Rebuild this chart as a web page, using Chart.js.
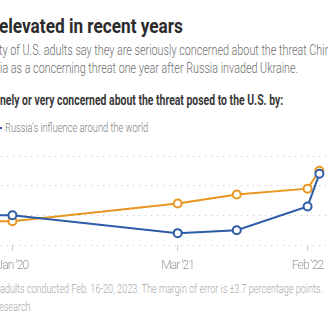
<!DOCTYPE html>
<html>
<head>
<meta charset="utf-8">
<script src="https://cdn.jsdelivr.net/npm/chart.js@4.4.1/dist/chart.umd.min.js"></script>
<style>
  html, body { margin: 0; padding: 0; background: #fff; }
  body {
    width: 328px; height: 328px; overflow: hidden; position: relative;
    font-family: Roboto, sans-serif;
  }
  /* Roboto squeezed sideways to get a condensed face */
  .line { position: absolute; white-space: nowrap; left: 0; transform-origin: 0 0; }
  #title { top: 14px; left: -1px; font-size: 20px; font-weight: bold; color: #2b2b2b; transform: scaleX(0.86); }
  .sub { font-size: 14px; font-weight: 300; color: #6e6e6e; transform: scaleX(0.77); }
  #sub1 { top: 42px; left: -1px; }
  #sub2 { top: 60px; }
  #subhead { top: 92px; font-size: 14.5px; font-weight: bold; color: #3a3a3a; transform: scaleX(0.72); }
  #legend { top: 120px; left: 5px; font-size: 13px; font-weight: 300; color: #808080; transform: scaleX(0.715); }
  #legendMark { position: absolute; top: 127px; left: -6px; width: 8px; height: 2px; background: #2d5ca6; }
  .foot { font-size: 13px; font-weight: 300; color: #a8a8a8; transform: scaleX(0.70); }
  #foot1 { top: 281px; }
  #foot2 { top: 299px; left: -1px; }
  #chartBox { position: absolute; left: -29px; top: 150px; width: 378px; height: 125px; }
</style>
</head>
<body>
<div class="line" id="title">elevated in recent years</div>
<div class="line sub" id="sub1">ty of U.S. adults say they are seriously concerned about the threat China</div>
<div class="line sub" id="sub2">ia as a concerning threat one year after Russia invaded Ukraine.</div>
<div class="line" id="subhead">nely or very concerned about the threat posed to the U.S. by:</div>
<div id="legendMark"></div>
<div class="line" id="legend"></div>
<div id="chartBox"><canvas id="grafico"></canvas></div>
<div class="line foot" id="foot1">adults conducted Feb. 16-20, 2023. The margin of error is ±3.7 percentage points.</div>
<div class="line foot" id="foot2">esearch</div>

<script>
// months counted from Jan 2020
var surveyMonths = [-12, 0, 14, 19, 25, 26];
var chinaValues  = [48, 48, 54, 57, 59, 65];
var russiaValues = [50, 50, 44, 45, 53, 64];
var tickMonths = [0, 14, 25];
var tickLabels = ["Jan '20", "Mar '21", "Feb '22"];
var seriesNames = ["Russia's influence around the world", "China"];

var azul = '#2d5ca6';
var laranja = '#e8961f';

document.getElementById('legend').textContent = seriesNames[0];

function pontos(valores) {
    return surveyMonths.map(function (m, i) { return { x: m, y: valores[i] }; });
}

// tighter tick labels, closer to a condensed face
var apertaTexto = {
    id: 'apertaTexto',
    beforeDraw: function (chart) { chart.ctx.letterSpacing = '-0.9px'; }
};

var ctx = document.getElementById("grafico");

var myChart = new Chart(ctx, {
    type: 'line',
    data: {
        datasets: [{
            label: seriesNames[0],
            data: pontos(russiaValues),
            borderColor: azul,
            pointBorderColor: azul,
            pointBackgroundColor: '#fff',
            borderWidth: 2,
            pointRadius: 4,
            pointBorderWidth: 2
        }, {
            label: seriesNames[1],
            data: pontos(chinaValues),
            borderColor: laranja,
            pointBorderColor: laranja,
            pointBackgroundColor: '#fff',
            borderWidth: 2,
            pointRadius: 4,
            pointBorderWidth: 2
        }]
    },
    plugins: [apertaTexto],
    options: {
        responsive: true,
        maintainAspectRatio: false,
        animation: false,
        layout: { padding: { top: 6 } },
        plugins: {
            legend: { display: false },
            tooltip: { enabled: false }
        },
        scales: {
            x: {
                type: 'linear',
                min: -3,
                max: 28,
                afterBuildTicks: function (axis) {
                    axis.ticks = tickMonths.map(function (v) { return { value: v }; });
                },
                afterFit: function (axis) { axis.height = 30; },
                ticks: {
                    callback: function (v, i) { return tickLabels[i]; },
                    color: '#999',
                    font: { family: 'Roboto', size: 12, weight: '300' },
                    padding: 8,
                    maxRotation: 0,
                    autoSkip: false
                },
                grid: { drawOnChartArea: false, drawTicks: true, tickLength: 6, color: '#ccc' },
                border: { display: false }
            },
            y: {
                min: 40,
                max: 70,
                afterFit: function (axis) { axis.width = 0; },
                ticks: { stepSize: 10, display: false },
                grid: { color: '#c4c4c4', drawTicks: false, lineWidth: 1 },
                border: { display: false, dash: [1, 5] }
            }
        }
    }
});
</script>
</body>
</html>
